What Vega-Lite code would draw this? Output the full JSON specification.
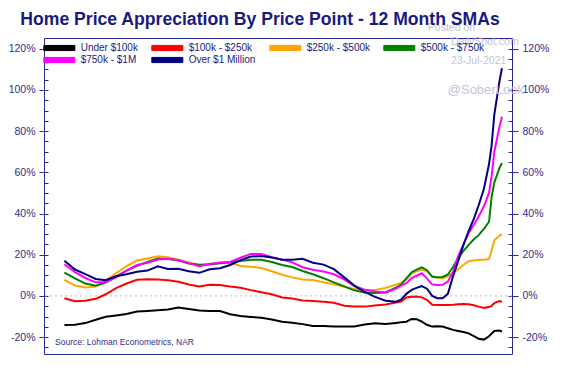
{
  "$schema": "https://vega.github.io/schema/vega-lite/v6.json",
  "width": 468,
  "height": 316,
  "autosize": {"type": "none"},
  "padding": {"left": 44, "top": 38, "right": 52, "bottom": 27},
  "background": "white",
  "title": {
    "text": "Home Price Appreciation By Price Point - 12 Month SMAs",
    "frame": "group",
    "anchor": "middle",
    "dx": -18,
    "offset": -20,
    "baseline": "alphabetic",
    "font": "Liberation Sans",
    "fontSize": 17.6,
    "fontWeight": "bold",
    "color": "#1a1a7e"
  },
  "config": {
    "view": {"stroke": "#2a2a96", "strokeWidth": 1},
    "axis": {
      "labelFont": "Liberation Sans",
      "labelFontSize": 10.5,
      "labelColor": "#2e2e8a",
      "tickColor": "#2a2a96",
      "domain": false,
      "grid": false,
      "title": null
    }
  },
  "datasets": {
    "series": [
      {"d": "2014-07-01", "Under $100k": -14.1, "$100k - $250k": -1.1, "$250k - $500k": 7.8, "$500k - $750k": 11.3, "$750k - $1M": 15.4, "Over $1 Million": 17.1},
      {"d": "2014-09-01", "Under $100k": -14.0, "$100k - $250k": -2.6, "$250k - $500k": 5.0, "$500k - $750k": 8.5, "$750k - $1M": 11.5, "Over $1 Million": 12.8},
      {"d": "2014-11-01", "Under $100k": -13.2, "$100k - $250k": -2.4, "$250k - $500k": 4.1, "$500k - $750k": 6.0, "$750k - $1M": 8.7, "Over $1 Million": 10.6},
      {"d": "2015-01-01", "Under $100k": -11.6, "$100k - $250k": -1.4, "$250k - $500k": 4.5, "$500k - $750k": 5.0, "$750k - $1M": 6.6, "Over $1 Million": 8.2},
      {"d": "2015-03-01", "Under $100k": -10.1, "$100k - $250k": 0.8, "$250k - $500k": 7.5, "$500k - $750k": 6.5, "$750k - $1M": 6.8, "Over $1 Million": 7.6},
      {"d": "2015-05-01", "Under $100k": -9.5, "$100k - $250k": 3.8, "$250k - $500k": 11.0, "$500k - $750k": 9.5, "$750k - $1M": 9.0, "Over $1 Million": 9.5},
      {"d": "2015-07-01", "Under $100k": -8.8, "$100k - $250k": 6.0, "$250k - $500k": 14.5, "$500k - $750k": 12.3, "$750k - $1M": 12.2, "Over $1 Million": 10.5},
      {"d": "2015-09-01", "Under $100k": -7.6, "$100k - $250k": 7.8, "$250k - $500k": 17.2, "$500k - $750k": 14.6, "$750k - $1M": 15.0, "Over $1 Million": 11.7},
      {"d": "2015-11-01", "Under $100k": -7.3, "$100k - $250k": 8.1, "$250k - $500k": 18.2, "$500k - $750k": 16.5, "$750k - $1M": 16.1, "Over $1 Million": 12.3},
      {"d": "2016-01-01", "Under $100k": -7.0, "$100k - $250k": 8.0, "$250k - $500k": 19.2, "$500k - $750k": 18.2, "$750k - $1M": 17.7, "Over $1 Million": 14.4},
      {"d": "2016-03-01", "Under $100k": -6.6, "$100k - $250k": 7.6, "$250k - $500k": 18.8, "$500k - $750k": 17.9, "$750k - $1M": 18.0, "Over $1 Million": 13.1},
      {"d": "2016-05-01", "Under $100k": -5.6, "$100k - $250k": 6.9, "$250k - $500k": 17.6, "$500k - $750k": 17.3, "$750k - $1M": 17.3, "Over $1 Million": 13.2},
      {"d": "2016-07-01", "Under $100k": -6.3, "$100k - $250k": 5.5, "$250k - $500k": 16.2, "$500k - $750k": 15.7, "$750k - $1M": 15.9, "Over $1 Million": 12.0},
      {"d": "2016-09-01", "Under $100k": -7.1, "$100k - $250k": 4.6, "$250k - $500k": 15.0, "$500k - $750k": 15.1, "$750k - $1M": 14.4, "Over $1 Million": 11.2},
      {"d": "2016-11-01", "Under $100k": -7.3, "$100k - $250k": 5.4, "$250k - $500k": 15.6, "$500k - $750k": 15.3, "$750k - $1M": 15.5, "Over $1 Million": 12.9},
      {"d": "2017-01-01", "Under $100k": -7.3, "$100k - $250k": 5.3, "$250k - $500k": 16.0, "$500k - $750k": 15.9, "$750k - $1M": 16.2, "Over $1 Million": 13.4},
      {"d": "2017-03-01", "Under $100k": -8.9, "$100k - $250k": 4.6, "$250k - $500k": 16.2, "$500k - $750k": 16.3, "$750k - $1M": 16.5, "Over $1 Million": 15.0},
      {"d": "2017-05-01", "Under $100k": -9.8, "$100k - $250k": 4.0, "$250k - $500k": 14.5, "$500k - $750k": 16.9, "$750k - $1M": 18.5, "Over $1 Million": 17.4},
      {"d": "2017-07-01", "Under $100k": -10.2, "$100k - $250k": 2.8, "$250k - $500k": 14.2, "$500k - $750k": 17.5, "$750k - $1M": 20.4, "Over $1 Million": 19.1},
      {"d": "2017-09-01", "Under $100k": -10.6, "$100k - $250k": 1.8, "$250k - $500k": 13.5, "$500k - $750k": 17.5, "$750k - $1M": 20.4, "Over $1 Million": 19.4},
      {"d": "2017-11-01", "Under $100k": -11.5, "$100k - $250k": 0.8, "$250k - $500k": 12.0, "$500k - $750k": 16.5, "$750k - $1M": 18.8, "Over $1 Million": 18.7},
      {"d": "2018-01-01", "Under $100k": -12.5, "$100k - $250k": -0.8, "$250k - $500k": 10.3, "$500k - $750k": 15.0, "$750k - $1M": 17.6, "Over $1 Million": 17.6},
      {"d": "2018-03-01", "Under $100k": -13.0, "$100k - $250k": -1.3, "$250k - $500k": 9.0, "$500k - $750k": 14.0, "$750k - $1M": 16.3, "Over $1 Million": 17.5},
      {"d": "2018-05-01", "Under $100k": -13.7, "$100k - $250k": -2.2, "$250k - $500k": 8.0, "$500k - $750k": 12.1, "$750k - $1M": 13.9, "Over $1 Million": 18.0},
      {"d": "2018-07-01", "Under $100k": -14.6, "$100k - $250k": -2.5, "$250k - $500k": 7.7, "$500k - $750k": 10.5, "$750k - $1M": 12.7, "Over $1 Million": 16.1},
      {"d": "2018-09-01", "Under $100k": -14.6, "$100k - $250k": -2.8, "$250k - $500k": 6.6, "$500k - $750k": 8.6, "$750k - $1M": 11.8, "Over $1 Million": 15.2},
      {"d": "2018-11-01", "Under $100k": -14.8, "$100k - $250k": -3.3, "$250k - $500k": 5.6, "$500k - $750k": 6.6, "$750k - $1M": 10.5, "Over $1 Million": 13.0},
      {"d": "2019-01-01", "Under $100k": -14.9, "$100k - $250k": -4.8, "$250k - $500k": 4.4, "$500k - $750k": 4.6, "$750k - $1M": 8.0, "Over $1 Million": 9.0},
      {"d": "2019-03-01", "Under $100k": -14.8, "$100k - $250k": -5.2, "$250k - $500k": 3.4, "$500k - $750k": 2.7, "$750k - $1M": 4.8, "Over $1 Million": 5.0},
      {"d": "2019-05-01", "Under $100k": -13.9, "$100k - $250k": -5.2, "$250k - $500k": 2.9, "$500k - $750k": 1.6, "$750k - $1M": 3.0, "Over $1 Million": 1.9},
      {"d": "2019-07-01", "Under $100k": -13.3, "$100k - $250k": -4.6, "$250k - $500k": 2.9, "$500k - $750k": 1.4, "$750k - $1M": 2.2, "Over $1 Million": -0.5},
      {"d": "2019-09-01", "Under $100k": -13.6, "$100k - $250k": -4.2, "$250k - $500k": 3.9, "$500k - $750k": 1.7, "$750k - $1M": 1.7, "Over $1 Million": -2.3},
      {"d": "2019-11-01", "Under $100k": -13.1, "$100k - $250k": -3.2, "$250k - $500k": 5.5, "$500k - $750k": 4.0, "$750k - $1M": 3.5, "Over $1 Million": -2.8},
      {"d": "2019-12-01", "Under $100k": -12.8, "$100k - $250k": -2.8, "$250k - $500k": 6.3, "$500k - $750k": 5.5, "$750k - $1M": 5.0, "Over $1 Million": -1.8},
      {"d": "2020-01-01", "Under $100k": -12.5, "$100k - $250k": -0.8, "$250k - $500k": 8.0, "$500k - $750k": 8.5, "$750k - $1M": 6.2, "Over $1 Million": 1.0},
      {"d": "2020-02-01", "Under $100k": -11.2, "$100k - $250k": -0.4, "$250k - $500k": 10.8, "$500k - $750k": 11.5, "$750k - $1M": 8.7, "Over $1 Million": 2.9},
      {"d": "2020-03-01", "Under $100k": -11.3, "$100k - $250k": -0.3, "$250k - $500k": 12.0, "$500k - $750k": 12.8, "$750k - $1M": 9.8, "Over $1 Million": 3.9},
      {"d": "2020-04-01", "Under $100k": -12.5, "$100k - $250k": -0.7, "$250k - $500k": 12.8, "$500k - $750k": 13.9, "$750k - $1M": 11.0, "Over $1 Million": 4.8},
      {"d": "2020-05-01", "Under $100k": -14.0, "$100k - $250k": -1.9, "$250k - $500k": 12.0, "$500k - $750k": 12.5, "$750k - $1M": 8.5, "Over $1 Million": 3.5},
      {"d": "2020-06-01", "Under $100k": -14.9, "$100k - $250k": -4.3, "$250k - $500k": 9.6, "$500k - $750k": 9.3, "$750k - $1M": 5.5, "Over $1 Million": 0.0},
      {"d": "2020-07-01", "Under $100k": -14.7, "$100k - $250k": -4.4, "$250k - $500k": 8.8, "$500k - $750k": 9.1, "$750k - $1M": 5.3, "Over $1 Million": -1.1},
      {"d": "2020-08-01", "Under $100k": -14.9, "$100k - $250k": -4.4, "$250k - $500k": 8.6, "$500k - $750k": 9.2, "$750k - $1M": 5.4, "Over $1 Million": -1.1},
      {"d": "2020-09-01", "Under $100k": -15.7, "$100k - $250k": -4.4, "$250k - $500k": 9.6, "$500k - $750k": 10.4, "$750k - $1M": 7.0, "Over $1 Million": 1.0},
      {"d": "2020-10-01", "Under $100k": -16.5, "$100k - $250k": -4.3, "$250k - $500k": 11.2, "$500k - $750k": 14.0, "$750k - $1M": 11.5, "Over $1 Million": 9.4},
      {"d": "2020-11-01", "Under $100k": -17.0, "$100k - $250k": -4.1, "$250k - $500k": 13.0, "$500k - $750k": 18.3, "$750k - $1M": 19.5, "Over $1 Million": 17.0},
      {"d": "2020-12-01", "Under $100k": -17.5, "$100k - $250k": -3.9, "$250k - $500k": 15.0, "$500k - $750k": 21.8, "$750k - $1M": 25.0, "Over $1 Million": 24.5},
      {"d": "2021-01-01", "Under $100k": -18.2, "$100k - $250k": -4.0, "$250k - $500k": 16.8, "$500k - $750k": 24.8, "$750k - $1M": 30.5, "Over $1 Million": 31.5},
      {"d": "2021-02-01", "Under $100k": -19.5, "$100k - $250k": -4.5, "$250k - $500k": 17.2, "$500k - $750k": 27.5, "$750k - $1M": 34.5, "Over $1 Million": 37.5},
      {"d": "2021-03-01", "Under $100k": -20.8, "$100k - $250k": -5.2, "$250k - $500k": 17.5, "$500k - $750k": 29.5, "$750k - $1M": 38.5, "Over $1 Million": 44.0},
      {"d": "2021-04-01", "Under $100k": -21.2, "$100k - $250k": -5.8, "$250k - $500k": 17.5, "$500k - $750k": 32.5, "$750k - $1M": 43.5, "Over $1 Million": 52.0},
      {"d": "2021-05-01", "Under $100k": -19.6, "$100k - $250k": -5.4, "$250k - $500k": 18.0, "$500k - $750k": 36.0, "$750k - $1M": 50.0, "Over $1 Million": 64.0},
      {"d": "2021-05-16", "Under $100k": -18.3, "$100k - $250k": -4.8, "$250k - $500k": 22.0, "$500k - $750k": 48.0, "$750k - $1M": 58.0, "Over $1 Million": 73.0},
      {"d": "2021-06-01", "Under $100k": -17.0, "$100k - $250k": -3.5, "$250k - $500k": 27.0, "$500k - $750k": 55.0, "$750k - $1M": 70.0, "Over $1 Million": 88.0},
      {"d": "2021-07-01", "Under $100k": -16.8, "$100k - $250k": -2.5, "$250k - $500k": 29.3, "$500k - $750k": 62.0, "$750k - $1M": 82.0, "Over $1 Million": 104.0},
      {"d": "2021-07-16", "Under $100k": -17.3, "$100k - $250k": -2.8, "$250k - $500k": 29.8, "$500k - $750k": 64.5, "$750k - $1M": 87.0, "Over $1 Million": 110.5}
    ],
    "zero": [{"v": 0}],
    "source": [{"d": "2014-05-07", "v": -22.3, "t": "Source: Lohman Econometrics, NAR"}],
    "marks": [
      {"d": "2020-09-22", "v": 130.2, "t": "Posted on"},
      {"d": "2021-04-06", "v": 123.3, "t": "DailyShot.com"},
      {"d": "2021-03-01", "v": 114.1, "t": "23-Jul-2021"}
    ],
    "handle": [{"d": "2021-04-12", "v": 100, "t": "@SoberLook"}]
  },
  "layer": [
    {
      "data": {"name": "zero"},
      "mark": {"type": "rule", "color": "#bdbdbd", "strokeDash": [2, 3], "strokeWidth": 1},
      "encoding": {
        "y": {
          "field": "v", "type": "quantitative",
          "scale": {"domain": [-28.2, 125.2], "nice": false, "zero": false},
          "axis": {"orient": "left", "values": [-25, -20, -15, -10, -5, 0, 5, 10, 15, 20, 25, 30, 35, 40, 45, 50, 55, 60, 65, 70, 75, 80, 85, 90, 95, 100, 105, 110, 115, 120], "labels": false, "tickSize": -4}
        }
      }
    },
    {
      "data": {"name": "series"},
      "transform": [{"fold": ["Under $100k", "$100k - $250k", "$250k - $500k", "$500k - $750k", "$750k - $1M", "Over $1 Million"], "as": ["s", "v"]}],
      "mark": {"type": "line", "strokeWidth": 2},
      "encoding": {
        "x": {
          "field": "d", "type": "temporal",
          "scale": {"type": "utc", "domain": [{"year": 2014, "month": 3, "date": 3, "utc": true}, {"year": 2021, "month": 9, "date": 13, "utc": true}]},
          "axis": {
            "values": [
              {"year": 2014, "month": 6, "date": 1, "utc": true},
              {"year": 2015, "month": 6, "date": 1, "utc": true},
              {"year": 2016, "month": 6, "date": 1, "utc": true},
              {"year": 2017, "month": 6, "date": 1, "utc": true},
              {"year": 2018, "month": 6, "date": 1, "utc": true},
              {"year": 2019, "month": 6, "date": 1, "utc": true},
              {"year": 2020, "month": 6, "date": 1, "utc": true},
              {"year": 2021, "month": 6, "date": 1, "utc": true}
            ],
            "format": "%b-%Y", "tickSize": 5, "labelPadding": 4, "labelOverlap": false
          }
        },
        "y": {
          "field": "v", "type": "quantitative",
          "scale": {"domain": [-28.2, 125.2], "nice": false, "zero": false},
          "axis": {"orient": "left", "values": [-20, 0, 20, 40, 60, 80, 100, 120], "labelExpr": "datum.value + '%'", "tickSize": 5, "labelPadding": 4}
        },
        "color": {
          "field": "s", "type": "nominal",
          "scale": {
            "domain": ["Under $100k", "$100k - $250k", "$250k - $500k", "$500k - $750k", "$750k - $1M", "Over $1 Million"],
            "range": ["#000000", "#ff0000", "#ffa500", "#008000", "#ff00ff", "#000080"]
          },
          "legend": {
            "orient": "none", "direction": "horizontal", "legendX": 9.33, "legendY": 4, "columns": 4, "columnPadding": 11, "rowPadding": 1,
            "title": null, "padding": 0,
            "symbolType": "M-3,-0.5H3V0.5H-3Z", "symbolSize": 107,
            "labelFont": "Liberation Sans", "labelFontSize": 10, "labelColor": "#1b1b7a", "labelOffset": 15.33,
            "encode": {"symbols": {"update": {"fill": {"scale": "color", "field": "value"}, "stroke": {"value": "#000000"}, "strokeWidth": {"value": 1}}}}
          }
        }
      }
    },
    {
      "data": {"name": "source"},
      "mark": {"type": "text", "align": "left", "baseline": "middle", "font": "Liberation Sans", "fontSize": 8.5, "color": "#2e2e8a"},
      "encoding": {
        "x": {"field": "d", "type": "temporal", "scale": {"type": "utc", "domain": [{"year": 2014, "month": 3, "date": 3, "utc": true}, {"year": 2021, "month": 9, "date": 13, "utc": true}]}, "axis": null},
        "y": {
          "field": "v", "type": "quantitative",
          "scale": {"domain": [-28.2, 125.2], "nice": false, "zero": false},
          "axis": {"orient": "right", "values": [-20, 0, 20, 40, 60, 80, 100, 120], "labelExpr": "datum.value + '%'", "tickSize": 6, "labelPadding": 4}
        },
        "text": {"field": "t"}
      }
    },
    {
      "data": {"name": "marks"},
      "mark": {"type": "text", "align": "center", "baseline": "middle", "font": "Liberation Sans", "fontSize": 10.5, "color": "#c4c4d8"},
      "encoding": {
        "x": {"field": "d", "type": "temporal", "scale": {"type": "utc", "domain": [{"year": 2014, "month": 3, "date": 3, "utc": true}, {"year": 2021, "month": 9, "date": 13, "utc": true}]}, "axis": null},
        "y": {
          "field": "v", "type": "quantitative",
          "scale": {"domain": [-28.2, 125.2], "nice": false, "zero": false},
          "axis": {"orient": "right", "values": [-25, -20, -15, -10, -5, 0, 5, 10, 15, 20, 25, 30, 35, 40, 45, 50, 55, 60, 65, 70, 75, 80, 85, 90, 95, 100, 105, 110, 115, 120], "labels": false, "tickSize": -4}
        },
        "text": {"field": "t"}
      }
    },
    {
      "data": {"name": "handle"},
      "mark": {"type": "text", "align": "center", "baseline": "middle", "font": "Liberation Sans", "fontSize": 13, "color": "#c4c4d8"},
      "encoding": {
        "x": {"field": "d", "type": "temporal", "scale": {"type": "utc", "domain": [{"year": 2014, "month": 3, "date": 3, "utc": true}, {"year": 2021, "month": 9, "date": 13, "utc": true}]}, "axis": null},
        "y": {"field": "v", "type": "quantitative", "scale": {"domain": [-28.2, 125.2], "nice": false, "zero": false}, "axis": null},
        "text": {"field": "t"}
      }
    }
  ],
  "resolve": {"axis": {"y": "independent"}}
}
